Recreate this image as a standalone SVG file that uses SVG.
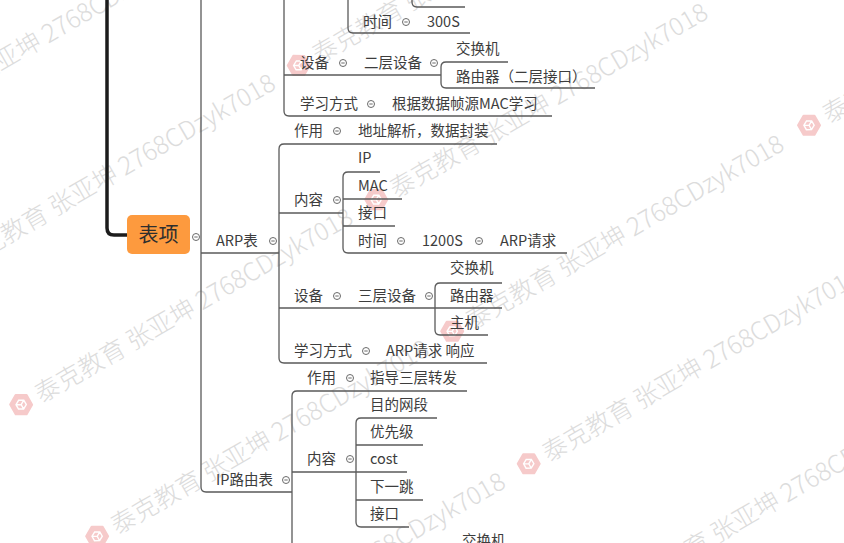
<svg xmlns="http://www.w3.org/2000/svg" xmlns:xlink="http://www.w3.org/1999/xlink" width="844" height="543" viewBox="0 0 844 543">
<defs>
<style>
.t{font-family:"Noto Sans CJK SC","Liberation Sans",sans-serif;font-size:14.5px;fill:#3d3d3d}
.c{fill:#fff;stroke:#6a6a6a;stroke-width:1}
.d{stroke:#6a6a6a;stroke-width:1}
.ln{fill:none;stroke:#5a5a5a;stroke-width:1.3}
.wm{font-family:"Noto Sans CJK SC","Liberation Sans",sans-serif;font-size:25px;font-weight:300;fill:#dcdcdc}
</style>
<g id="logo">
<polygon points="0,-11 9.5,-5.5 9.5,5.5 0,11 -9.5,5.5 -9.5,-5.5" fill="#f6caca" stroke="#f6caca" stroke-width="2" stroke-linejoin="round"/>
<path d="M0,-5 L4.5,-2.5 L4.5,2.5 L0,5 L-4.5,2.5 L-4.5,-2.5 Z M0,0 L0,5 M0,0 L4.5,-2.5 M0,0 L-4.5,-2.5" fill="none" stroke="#fff" stroke-width="1.4"/>
</g>
</defs>
<rect width="844" height="543" fill="#fff"/>

<g id="watermark" transform="rotate(-30)">
<use xlink:href="#logo" x="-184" y="53"/><text class="wm" x="-166" y="62">泰克教育 张亚坤 2768CDzyk7018</text>
<use xlink:href="#logo" x="-184" y="206"/><text class="wm" x="-166" y="215">泰克教育 张亚坤 2768CDzyk7018</text>
<use xlink:href="#logo" x="226" y="206"/><text class="wm" x="244" y="215">泰克教育 张亚坤 2768CDzyk7018</text>
<use xlink:href="#logo" x="-184" y="361"/><text class="wm" x="-166" y="370">泰克教育 张亚坤 2768CDzyk7018</text>
<use xlink:href="#logo" x="226" y="361"/><text class="wm" x="244" y="370">泰克教育 张亚坤 2768CDzyk7018</text>
<use xlink:href="#logo" x="-184" y="513"/><text class="wm" x="-166" y="522">泰克教育 张亚坤 2768CDzyk7018</text>
<use xlink:href="#logo" x="226" y="513"/><text class="wm" x="244" y="522">泰克教育 张亚坤 2768CDzyk7018</text>
<use xlink:href="#logo" x="638" y="513"/><text class="wm" x="656" y="522">泰克教育 张亚坤 2768CDzyk7018</text>
<use xlink:href="#logo" x="-184" y="666"/><text class="wm" x="-166" y="675">泰克教育 张亚坤 2768CDzyk7018</text>
<use xlink:href="#logo" x="226" y="666"/><text class="wm" x="244" y="675">泰克教育 张亚坤 2768CDzyk7018</text>
<use xlink:href="#logo" x="226" y="820"/><text class="wm" x="244" y="829">泰克教育 张亚坤 2768CDzyk7018</text>
</g>

<g id="connectors">
<path d="M107 0 V228 Q107 235 114 235 H128" fill="none" stroke="#1c1c1c" stroke-width="3.5"/>
<path class="ln" d="M201 0 V487 Q201 492 206 492 H292"/>
<path class="ln" d="M201 253 H279"/>
<path class="ln" d="M284 0 V111 Q284 116 289 116 H552"/>
<path class="ln" d="M284 75 H441"/>
<path class="ln" d="M508 62 H446 Q441 62 441 67 V83 Q441 88 446 88 H595"/>
<path class="ln" d="M348 0 V28 Q348 33 353 33 H470"/>
<path class="ln" d="M412 0 V2 Q412 7 417 7 H465"/>
<path class="ln" d="M497 144 H284 Q279 144 279 149 V358 Q279 363 284 363 H487"/>
<path class="ln" d="M279 213 H343"/>
<path class="ln" d="M380 172 H348 Q343 172 343 177 V248 Q343 253 348 253 H567"/>
<path class="ln" d="M343 199 H402"/>
<path class="ln" d="M343 226 H395"/>
<path class="ln" d="M279 308 H502"/>
<path class="ln" d="M502 283 H440 Q435 283 435 288 V330 Q435 335 440 335 H488"/>
<path class="ln" d="M467 391 H297 Q292 391 292 396 V543"/>
<path class="ln" d="M292 472 H407"/>
<path class="ln" d="M437 418 H361 Q356 418 356 423 V522 Q356 527 361 527 H409"/>
<path class="ln" d="M356 445 H423"/>
<path class="ln" d="M356 500 H423"/>
</g>

<g id="root">
<rect x="127" y="215" width="63" height="39" rx="5" fill="#fd9a3e"/>
<text x="158.5" y="242" text-anchor="middle" style="font-family:'Noto Sans CJK SC','Liberation Sans',sans-serif;font-size:20px;fill:#2e2e2e">表项</text>
<circle class="c" cx="196" cy="237" r="3.5"/><line class="d" x1="194.3" y1="237" x2="197.7" y2="237"/>
</g>

<g id="mac-time">
<text class="t" x="363" y="27">时间</text>
<circle class="c" cx="406" cy="22" r="3.5"/><line class="d" x1="404.3" y1="22" x2="407.7" y2="22"/>
<text class="t" x="427" y="27">300S</text>
</g>
<g id="mac-device">
<text class="t" x="300" y="68">设备</text>
<circle class="c" cx="343" cy="63" r="3.5"/><line class="d" x1="341.3" y1="63" x2="344.7" y2="63"/>
<text class="t" x="364" y="68">二层设备</text>
<circle class="c" cx="434" cy="63" r="3.5"/><line class="d" x1="432.3" y1="63" x2="435.7" y2="63"/>
<text class="t" x="456" y="54">交换机</text>
<text class="t" x="456" y="82">路由器（二层接口）</text>
</g>
<g id="mac-learn">
<text class="t" x="300" y="109">学习方式</text>
<circle class="c" cx="371" cy="104" r="3.5"/><line class="d" x1="369.3" y1="104" x2="372.7" y2="104"/>
<text class="t" x="392" y="109">根据数据帧源MAC学习</text>
</g>

<g id="arp">
<text class="t" x="216" y="246">ARP表</text>
<circle class="c" cx="273" cy="241" r="3.5"/><line class="d" x1="271.3" y1="241" x2="274.7" y2="241"/>
</g>
<g id="arp-use">
<text class="t" x="294" y="136">作用</text>
<circle class="c" cx="337" cy="131" r="3.5"/><line class="d" x1="335.3" y1="131" x2="338.7" y2="131"/>
<text class="t" x="358" y="136">地址解析，数据封装</text>
</g>
<g id="arp-content">
<text class="t" x="294" y="205">内容</text>
<circle class="c" cx="337" cy="200" r="3.5"/><line class="d" x1="335.3" y1="200" x2="338.7" y2="200"/>
<text class="t" x="358" y="163">IP</text>
<text class="t" x="358" y="191">MAC</text>
<text class="t" x="358" y="218">接口</text>
<text class="t" x="358" y="246">时间</text>
<circle class="c" cx="401" cy="241" r="3.5"/><line class="d" x1="399.3" y1="241" x2="402.7" y2="241"/>
<text class="t" x="422" y="246">1200S</text>
<circle class="c" cx="479" cy="241" r="3.5"/><line class="d" x1="477.3" y1="241" x2="480.7" y2="241"/>
<text class="t" x="500" y="246">ARP请求</text>
</g>
<g id="arp-device">
<text class="t" x="294" y="301">设备</text>
<circle class="c" cx="337" cy="296" r="3.5"/><line class="d" x1="335.3" y1="296" x2="338.7" y2="296"/>
<text class="t" x="358" y="301">三层设备</text>
<circle class="c" cx="429" cy="296" r="3.5"/><line class="d" x1="427.3" y1="296" x2="430.7" y2="296"/>
<text class="t" x="450" y="273">交换机</text>
<text class="t" x="450" y="301">路由器</text>
<text class="t" x="450" y="328">主机</text>
</g>
<g id="arp-learn">
<text class="t" x="294" y="356">学习方式</text>
<circle class="c" cx="366" cy="351" r="3.5"/><line class="d" x1="364.3" y1="351" x2="367.7" y2="351"/>
<text class="t" x="386" y="356">ARP请求 响应</text>
</g>

<g id="iproute">
<text class="t" x="216" y="485">IP路由表</text>
<circle class="c" cx="286" cy="480" r="3.5"/><line class="d" x1="284.3" y1="480" x2="287.7" y2="480"/>
</g>
<g id="ip-use">
<text class="t" x="307" y="383">作用</text>
<circle class="c" cx="350" cy="378" r="3.5"/><line class="d" x1="348.3" y1="378" x2="351.7" y2="378"/>
<text class="t" x="370" y="383">指导三层转发</text>
</g>
<g id="ip-content">
<text class="t" x="307" y="464">内容</text>
<circle class="c" cx="350" cy="459" r="3.5"/><line class="d" x1="348.3" y1="459" x2="351.7" y2="459"/>
<text class="t" x="370" y="410">目的网段</text>
<text class="t" x="370" y="437">优先级</text>
<text class="t" x="370" y="464">cost</text>
<text class="t" x="370" y="492">下一跳</text>
<text class="t" x="370" y="519">接口</text>
</g>
<g id="ip-device">
<text class="t" x="462" y="546">交换机</text>
</g>
</svg>
